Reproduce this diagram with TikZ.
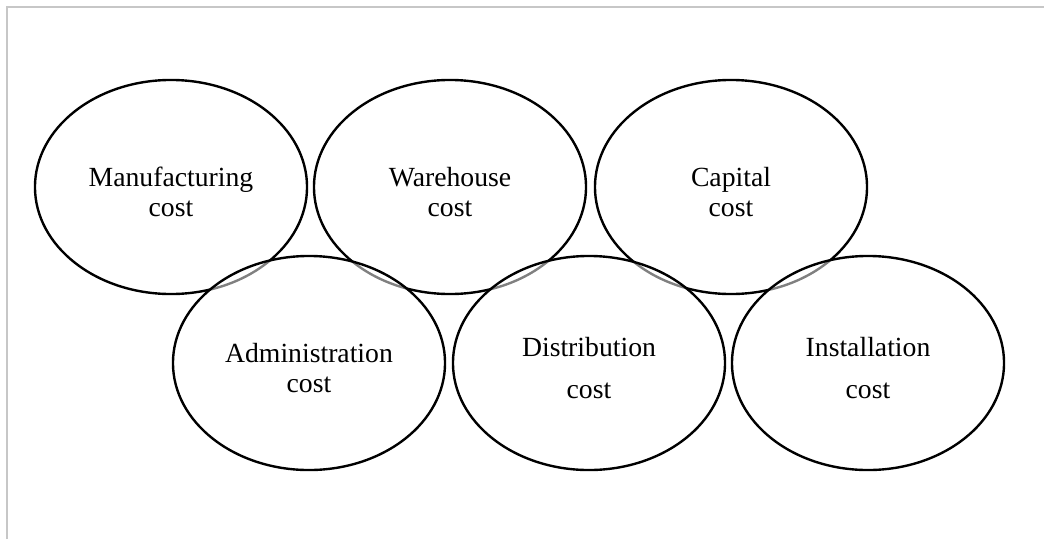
\documentclass[tikz,border=0pt]{standalone}
\usepackage{fontspec}
\setmainfont{Liberation Serif}
\usepackage{xcolor}
\usepackage{tikz}
\usetikzlibrary{shapes.geometric}
\usetikzlibrary{positioning}
\tikzset{
	cost/.style={ellipse,draw=black,line width=1.7pt,minimum width=6.8cm,minimum height=5.35cm,align=center,text height=42pt,font=\fontsize{19.7}{21.5}\selectfont},
	lower cost/.style={cost,fill=white,fill opacity=0.5,text opacity=1}
}
\begin{document}
\begin{tikzpicture}[x=0.025cm,y=-0.025cm]
	\useasboundingbox (0,0) rectangle (1044,539);
	\draw[line width=1pt,black!22] (7,539) -- (7,7) -- (1044,7);
	% upper row
	\node[cost] (manufacturing) at (171,187) {Manufacturing\\cost};
	\node[cost] (warehouse) at (450,187) {Warehouse\\cost};
	\node[cost] (capital) at (731,187) {Capital\\cost};
	% lower row, drawn over the upper one
	\node[lower cost] (administration) at (309,363) {Administration\\cost};
	\node[lower cost,text height=50pt] (distribution) at (589,363) {Distribution\\[8pt]cost};
	\node[lower cost,text height=50pt] (installation) at (868,363) {Installation\\[8pt]cost};
\end{tikzpicture}
\end{document}
